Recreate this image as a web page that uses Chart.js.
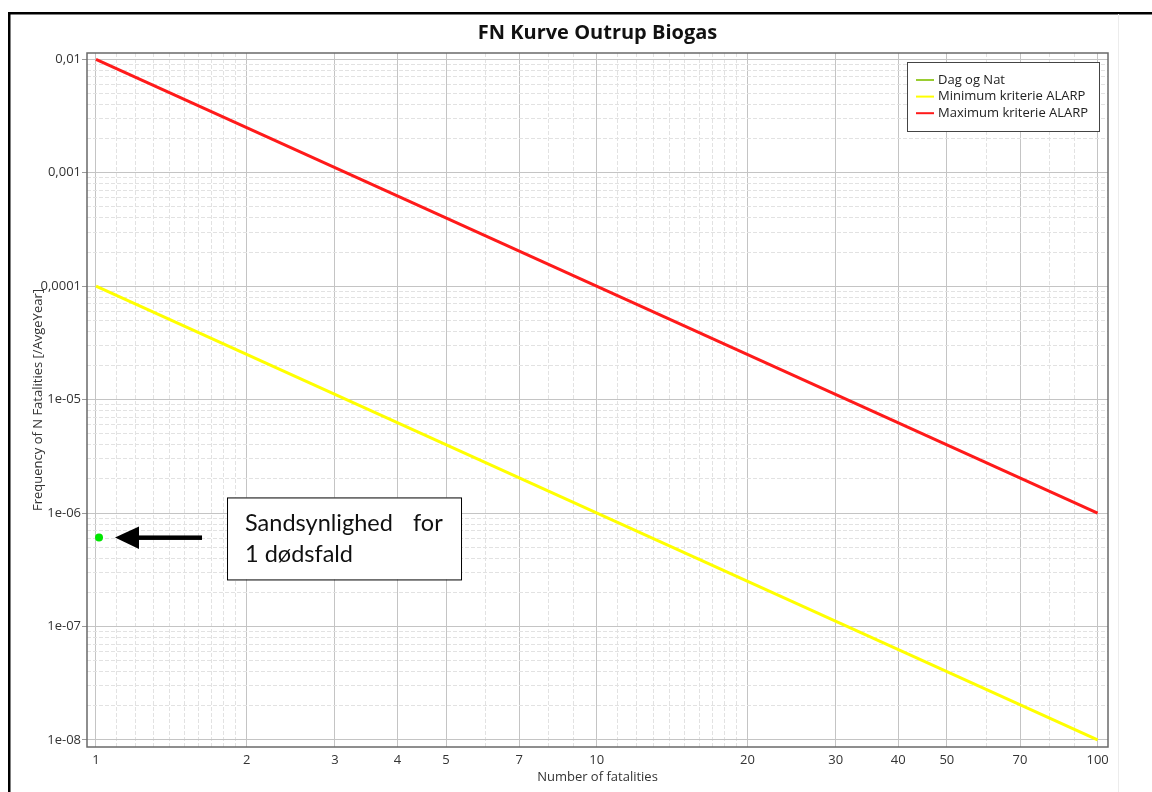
<!DOCTYPE html>
<html>
<head>
<meta charset="utf-8">
<script src="https://cdn.jsdelivr.net/npm/chart.js@4.4.1/dist/chart.umd.min.js"></script>
<style>
 html, body { margin: 0; padding: 0; background: #fff; }
 #wrap { width: 1152px; height: 792px; }
</style>
</head>
<body>
<div id="wrap"><canvas id="fnChart" width="1152" height="792"></canvas></div>
<script>
// Data
const nLine = [1, 100];
const maxKriterie = [1e-2, 1e-6];
const minKriterie = [1e-4, 1e-8];
const dagOgNatN = [1.014];
const dagOgNatF = [6.1e-7];

const xTickLabels = [1, 2, 3, 4, 5, 7, 10, 20, 30, 40, 50, 70, 100];
const yDecades = [1e-2, 1e-3, 1e-4, 1e-5, 1e-6, 1e-7, 1e-8];
const yTickLabels = ['0,01', '0,001', '0,0001', '1e-05', '1e-06', '1e-07', '1e-08'];

// grid positions (major = labelled, the rest dashed)
const xGrid = [];
[0, 1].forEach(e => {
 for (let m = 10; m < 20; m++) xGrid.push(parseFloat((m / 10) + 'e' + e));
 [2, 3, 4, 5, 6, 7, 8, 9].forEach(m => xGrid.push(parseFloat(m + 'e' + e)));
});
xGrid.push(100);
const yGrid = [];
for (let e = -8; e <= -2; e++) {
 for (let m = 1; m <= 9; m++) {
  if (e === -2 && m > 1) break;
  yGrid.push(parseFloat(m + 'e' + e));
 }
}

const isMajorX = v => xTickLabels.includes(v);
const isMajorY = v => yDecades.includes(v);

Chart.defaults.font.family = '"Open Sans", sans-serif';
Chart.defaults.font.size = 13;
Chart.defaults.color = '#333';

const toPoints = (xs, ys) => xs.map((x, i) => ({ x: x, y: ys[i] }));

const framePlugin = {
 id: 'frame',
 beforeDraw(chart) {
  const c = chart.ctx;
  c.save();
  c.fillStyle = '#fff';
  c.fillRect(0, 0, chart.width, chart.height);
  c.fillStyle = '#000';
  c.fillRect(8, 12, chart.width - 8, 2.5);
  c.fillRect(8, 12, 2.5, chart.height - 12);
  c.fillStyle = '#ececec';
  c.fillRect(1118, 14, 1, chart.height - 14);
  c.restore();
 },
 afterDraw(chart) {
  const c = chart.ctx;
  const a = chart.chartArea;
  c.save();
  // plot border
  c.strokeStyle = '#6a6a6a';
  c.lineWidth = 1.5;
  c.strokeRect(a.left, a.top, a.right - a.left, a.bottom - a.top);

  // title
  c.fillStyle = '#111';
  c.font = 'bold 20px "Open Sans", sans-serif';
  c.textAlign = 'center';
  c.textBaseline = 'middle';
  c.fillText('FN Kurve Outrup Biogas', (a.left + a.right) / 2, 33);

  // legend
  const lx = a.right - 201, ly = a.top + 9, lw = 192, lh = 69;
  c.fillStyle = '#fff';
  c.fillRect(lx, ly, lw, lh);
  c.strokeStyle = '#444';
  c.lineWidth = 1;
  c.strokeRect(lx + 0.5, ly + 0.5, lw, lh);
  c.font = '13px "Open Sans", sans-serif';
  c.textAlign = 'left';
  chart.data.datasets.forEach((ds, i) => {
   const yy = ly + 18 + i * 16.6;
   c.strokeStyle = ds.borderColor;
   c.lineWidth = 2;
   c.beginPath();
   c.moveTo(lx + 9, yy);
   c.lineTo(lx + 27, yy);
   c.stroke();
   c.fillStyle = '#222';
   c.fillText(ds.label, lx + 31, yy);
  });

  // annotation: arrow + text box, placed relative to the green point
  const px = chart.scales.x.getPixelForValue(dagOgNatN[0]);
  const py = chart.scales.y.getPixelForValue(dagOgNatF[0]);
  const tipX = px + 16, tailX = px + 103;
  c.fillStyle = '#000';
  c.fillRect(tipX + 20, py - 2, tailX - tipX - 20, 4.5);
  c.beginPath();
  c.moveTo(tipX, py);
  c.lineTo(tipX + 24, py - 11);
  c.lineTo(tipX + 24, py + 11.5);
  c.closePath();
  c.fill();

  const bx = px + 128, by = py - 40, bw = 234, bh = 82;
  c.fillStyle = '#fff';
  c.fillRect(bx, by, bw, bh);
  c.strokeStyle = '#000';
  c.lineWidth = 1;
  c.strokeRect(bx + 0.5, by + 0.5, bw, bh);
  c.fillStyle = '#111';
  c.font = '23.5px Lato, sans-serif';
  c.textBaseline = 'middle';
  c.fillText('Sandsynlighed', bx + 18, by + 26);
  c.fillText('for', bx + 186, by + 26);
  c.fillText('1 d\u00f8dsfald', bx + 18, by + 57);
  c.restore();
 }
};

new Chart(document.getElementById('fnChart'), {
 type: 'scatter',
 data: {
  datasets: [
   {
    label: 'Dag og Nat',
    data: toPoints(dagOgNatN, dagOgNatF),
    borderColor: '#9acd32',
    backgroundColor: '#00e600',
    pointBackgroundColor: '#00e600',
    pointBorderWidth: 0,
    pointRadius: 4,
    showLine: false
   },
   {
    label: 'Minimum kriterie ALARP',
    data: toPoints(nLine, minKriterie),
    borderColor: '#ffff00',
    borderWidth: 3,
    pointRadius: 0,
    showLine: true
   },
   {
    label: 'Maximum kriterie ALARP',
    data: toPoints(nLine, maxKriterie),
    borderColor: '#ff1a1a',
    borderWidth: 3,
    pointRadius: 0,
    showLine: true
   }
  ]
 },
 options: {
  responsive: false,
  animation: false,
  devicePixelRatio: 1,
  layout: { padding: { left: 30, right: 44, top: 53, bottom: 0 } },
  plugins: {
   legend: { display: false },
   title: { display: false },
   tooltip: { enabled: false }
  },
  scales: {
   x: {
    type: 'logarithmic',
    min: 0.9595,
    max: 104.9,
    afterBuildTicks: scale => { scale.ticks = xGrid.map(v => ({ value: v })); },
    afterFit: scale => { scale.height = 45; },
    ticks: {
     autoSkip: false,
     maxRotation: 0,
     minRotation: 0,
     padding: 5,
     color: '#333',
     callback: v => isMajorX(v) ? String(v) : ''
    },
    grid: {
     drawTicks: false,
     lineWidth: 1,
     color: c => (c.tick && isMajorX(c.tick.value)) ? '#c4c4c4' : '#e2e2e2'
    },
    border: {
     display: false,
     dash: c => (c.tick && !isMajorX(c.tick.value)) ? [4, 2] : []
    },
    title: {
     display: true,
     text: 'Number of fatalities',
     color: '#333',
     padding: { top: 0, bottom: 7 }
    }
   },
   y: {
    type: 'logarithmic',
    min: 8.67e-9,
    max: 0.01137,
    afterBuildTicks: scale => { scale.ticks = yGrid.map(v => ({ value: v })); },
    afterFit: scale => { scale.width = 57; },
    ticks: {
     autoSkip: false,
     padding: 1,
     color: '#333',
     callback: v => {
      const i = yDecades.indexOf(v);
      return i >= 0 ? yTickLabels[i] : '';
     }
    },
    grid: {
     drawTicks: true,
     tickLength: 5,
     lineWidth: 1,
     color: c => (c.tick && isMajorY(c.tick.value)) ? '#c4c4c4' : '#e2e2e2',
     tickColor: c => (c.tick && isMajorY(c.tick.value)) ? '#9a9a9a' : 'rgba(0,0,0,0)'
    },
    border: {
     display: false,
     dash: c => (c.tick && !isMajorY(c.tick.value)) ? [4, 2] : []
    },
    title: {
     display: true,
     text: 'Frequency of N Fatalities [/AvgeYear]',
     color: '#333',
     padding: { top: 0, bottom: 0 }
    }
   }
  }
 },
 plugins: [framePlugin]
});
</script>
</body>
</html>
